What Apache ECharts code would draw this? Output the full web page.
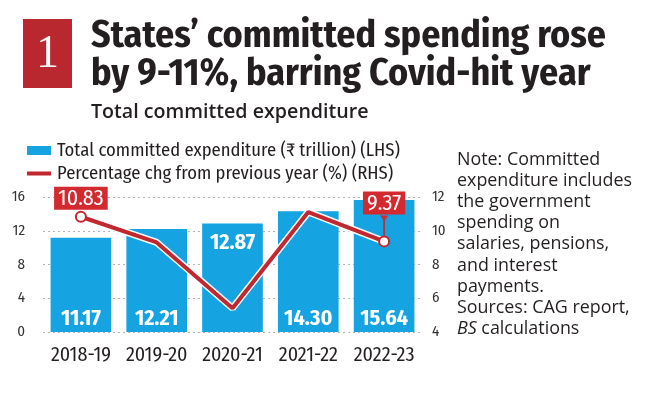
<!DOCTYPE html>
<html>
<head>
<meta charset="utf-8">
<script src="https://cdn.jsdelivr.net/npm/echarts@6/dist/echarts.min.js"></script>
<style>
html,body{margin:0;padding:0;background:#fff;}
#c{width:670px;height:393px;}
</style>
</head>
<body>
<div id="c"></div>
<script>
var categories = ['2018-19', '2019-20', '2020-21', '2021-22', '2022-23'];
var expenditure = [11.17, 12.21, 12.87, 14.30, 15.64];
var pctChange = [10.83, 9.31, 5.41, 11.11, 9.37];
var leftTicks = [0, 4, 8, 12, 16];
var rightTicks = [4, 6, 8, 10, 12];
var titleLines = ['States\u2019 committed spending rose', 'by 9-11%, barring Covid-hit year'];
var subtitle = 'Total committed expenditure';
var barName = 'Total committed expenditure (\u20b9 trillion) (LHS)';
var lineName = 'Percentage chg from previous year (%) (RHS)';
var noteLines = ['Note: Committed', 'expenditure includes', 'the government', 'spending on', 'salaries, pensions,', 'and interest', 'payments.', 'Sources: CAG report,'];
var noteItalic = 'BS';
var noteTail = ' calculations';

var COND = '"Fira Sans Condensed", "Roboto Condensed", sans-serif';
var HUM = '"Open Sans", sans-serif';
var BLUE = '#15a3e1';
var RED = '#c1272e';
var LABEL_RED = '#d32a30';
var INK = '#231f20';

var mctx = document.createElement('canvas').getContext('2d');
function fit(text, weight, family, target) {
  mctx.font = weight + ' 100px ' + family;
  return 100 * target / mctx.measureText(text).width;
}
var titleSize = fit(titleLines[0], 'bold', COND, 515);
var subSize = fit(subtitle, '500', HUM, 267);
var legendSize = fit(barName, 'normal', COND, 343);
var noteSize = fit(noteLines[1], 'normal', HUM, 175);

var chart = echarts.init(document.getElementById('c'));

var STEM = 21;
var barData = expenditure.map(function (v, i) {
  return {
    value: v,
    label: { position: i === 2 ? 'insideTop' : 'insideBottom', distance: i === 2 ? 8 : 2 }
  };
});
var lastIdx = categories.length - 1;
var lineData = pctChange.map(function (v, i) {
  var labelled = (i === 0 || i === lastIdx);
  return {
    value: v,
    symbol: labelled ? 'circle' : 'none',
    label: { show: labelled, distance: i === lastIdx ? STEM : 1 }
  };
});

var noteRichText = noteLines.map(function (l) { return '{n|' + l + '}'; }).join('\n') +
  '\n{i|' + noteItalic + '}{n|' + noteTail + '}';

var staticGraphics = [
  { type: 'rect', shape: { x: 23, y: 19, width: 49, height: 69 }, style: { fill: '#b9282f' } },
  { type: 'text', style: { text: '1', x: 47.5, y: 55, fill: '#fff', font: '46px "Liberation Serif", "DejaVu Serif", serif', textAlign: 'center', textVerticalAlign: 'middle' } },
  { type: 'text', style: { text: titleLines[0], x: 91, y: 36, fill: INK, font: 'bold ' + titleSize + 'px ' + COND, textVerticalAlign: 'middle' } },
  { type: 'text', style: { text: titleLines[1], x: 91, y: 74, fill: INK, font: 'bold ' + titleSize + 'px ' + COND, textVerticalAlign: 'middle' } },
  { type: 'text', style: { text: subtitle, x: 91, y: 112, fill: INK, font: '600 ' + subSize + 'px ' + HUM, textVerticalAlign: 'middle' } },
  { type: 'text', style: {
      x: 457, y: 149,
      text: noteRichText,
      rich: {
        n: { fontFamily: HUM, fontSize: noteSize, lineHeight: 21.2, fill: INK, color: INK },
        i: { fontFamily: HUM, fontSize: noteSize, fontStyle: 'italic', lineHeight: 21.2, fill: INK, color: INK }
      }
    } }
];

var option = {
  animation: false,
  backgroundColor: '#fff',
  graphic: staticGraphics,
  legend: [
    {
      data: [{ name: barName, icon: 'rect' }],
      left: 22, top: 136, itemWidth: 24, itemHeight: 9, itemGap: 5, padding: 5,
      textStyle: { fontFamily: COND, fontSize: legendSize, color: INK, padding: [0, 0, 0, 1] }
    },
    {
      data: [{ name: lineName, icon: 'rect', itemStyle: { color: RED, borderWidth: 0 } }],
      left: 22, top: 159, itemWidth: 24, itemHeight: 4, itemGap: 5, padding: 5,
      textStyle: { fontFamily: COND, fontSize: legendSize, color: INK, padding: [0, 0, 0, 1] }
    }
  ],
  grid: { left: 43, right: 248, top: 197, bottom: 61 },
  xAxis: {
    type: 'category',
    data: categories,
    axisLine: { show: false },
    axisTick: { show: false },
    axisLabel: { interval: 0, fontFamily: COND, fontSize: 20, color: INK, margin: 13 }
  },
  yAxis: [
    {
      type: 'value', min: leftTicks[0], max: leftTicks[leftTicks.length - 1], interval: 4,
      axisLine: { show: false }, axisTick: { show: false },
      axisLabel: { fontFamily: COND, fontSize: 15, color: '#333', margin: 18 },
      splitLine: { lineStyle: { color: '#b5b5b5', type: [2, 3], width: 1 } }
    },
    {
      type: 'value', min: rightTicks[0], max: rightTicks[rightTicks.length - 1], interval: 2,
      axisLine: { show: false }, axisTick: { show: false },
      axisLabel: { fontFamily: COND, fontSize: 15, color: '#333', margin: 10 },
      splitLine: { show: false }
    }
  ],
  series: [
    {
      name: barName, type: 'bar', data: barData, yAxisIndex: 0,
      barCategoryGap: '20%',
      itemStyle: { color: BLUE },
      label: {
        show: true, color: '#fff', fontFamily: COND, fontWeight: 'bold', fontSize: 22,
        formatter: function (p) { return p.value.toFixed(2); }
      }
    },
    {
      name: 'halo', type: 'line', data: pctChange, yAxisIndex: 1,
      symbol: 'none', silent: true,
      lineStyle: { color: '#ffffff', width: 7 },
      z: 4
    },
    {
      name: lineName, type: 'line', data: lineData, yAxisIndex: 1,
      color: RED,
      lineStyle: { color: RED, width: 4 },
      itemStyle: { color: '#fff', borderColor: RED, borderWidth: 2 },
      symbolSize: 10,
      label: {
        position: 'top',
        color: '#fff', backgroundColor: LABEL_RED,
        fontFamily: COND, fontSize: 22, padding: [1, 4, 0, 4],
        formatter: function (p) { return p.value.toFixed(2); }
      },
      z: 5
    }
  ]
};
chart.setOption(option);

// pointer stem from the last label down to its point, positioned through the chart's own scales
var pt = chart.convertToPixel({ xAxisIndex: 0, yAxisIndex: 1 }, [lastIdx, pctChange[lastIdx]]);
var stemTop = pt[1] - 5 - STEM;
chart.setOption({
  graphic: staticGraphics.concat([
    { type: 'line', z: 100, shape: { x1: pt[0], y1: pt[1] - 5, x2: pt[0], y2: stemTop + 1 }, style: { stroke: RED, lineWidth: 1.6 } },
    { type: 'polygon', z: 100, shape: { points: [[pt[0] - 4, stemTop], [pt[0] + 4, stemTop], [pt[0], stemTop + 6]] }, style: { fill: LABEL_RED } }
  ])
});
</script>
</body>
</html>
